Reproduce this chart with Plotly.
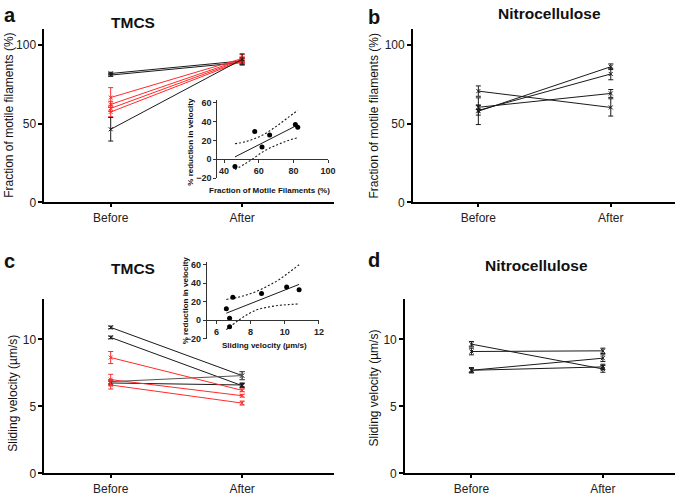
import plotly.graph_objects as go

W, H = 685, 502
FONT = "Arial, 'Liberation Sans', Helvetica, sans-serif"
BLACK = "#1a1a1a"
RED = "#ff2b2b"
GRAY = "#555555"

categories = ["Before", "After"]

# Panel a: fraction of motile filaments, TMCS
a_before = [82.0, 81.0, 66.7, 62.3, 59.8, 57.5, 46.5]
a_after = [90.0, 89.0, 91.5, 91.0, 90.5, 90.0, 91.0]
a_err_before = [0.8, 0.8, 6.3, 2.0, 2.0, 3.0, 7.5]
a_err_after = [1.5, 1.5, 2.5, 1.5, 1.5, 1.5, 3.5]
a_colors = [BLACK, BLACK, RED, RED, RED, RED, BLACK]

# Panel b: fraction of motile filaments, Nitrocellulose
b_before = [70.8, 60.5, 58.0, 58.5]
b_after = [60.4, 69.3, 86.3, 81.7]
b_err_before = [3.3, 1.5, 8.5, 3.0]
b_err_after = [5.5, 2.5, 1.8, 3.7]

# Panel c: sliding velocity, TMCS
c_before = [10.9, 10.15, 6.85, 6.75, 8.65, 7.0, 6.6]
c_after = [7.3, 6.55, 7.3, 6.6, 6.2, 5.8, 5.25]
c_err_before = [0.1, 0.1, 0.15, 0.15, 0.45, 0.4, 0.3]
c_err_after = [0.3, 0.15, 0.3, 0.15, 0.1, 0.1, 0.15]
c_colors = [BLACK, BLACK, GRAY, BLACK, RED, RED, RED]

# Panel d: sliding velocity, Nitrocellulose
d_before = [9.65, 9.1, 7.7, 7.7]
d_after = [7.8, 9.15, 8.6, 7.95]
d_err_before = [0.2, 0.25, 0.2, 0.15]
d_err_after = [0.25, 0.2, 0.25, 0.2]

# Inset a: % reduction in velocity vs fraction of motile filaments
ia_x = [46.3, 57.7, 61.9, 66.3, 81.1, 82.5]
ia_y = [-7.8, 29.5, 13.1, 25.9, 37.0, 34.0]
ia_fit_x = [46.3, 82.5]
ia_fit_y = [2.5, 36.5]
ia_band_x = [46.3, 52, 57, 62, 67, 72, 77, 82.5]
ia_upper = [16.5, 18.5, 21.5, 25.5, 31.0, 37.5, 44.5, 52.0]
ia_lower = [-11.0, -5.0, 1.0, 7.5, 12.5, 16.5, 20.0, 23.0]

# Inset c: % reduction in velocity vs sliding velocity
ic_x = [6.58, 6.96, 6.77, 6.77, 8.64, 10.11, 10.84]
ic_y = [12.4, 24.9, 2.1, -7.1, 28.8, 35.9, 33.0]
ic_fit_x = [6.58, 10.84]
ic_fit_y = [7.5, 38.7]
ic_band_x = [6.58, 7.2, 7.8, 8.4, 9.0, 9.6, 10.2, 10.84]
ic_upper = [22.4, 24.5, 27.5, 31.5, 37.0, 43.0, 51.0, 60.0]
ic_lower = [-10.3, -1.5, 6.0, 11.5, 14.0, 15.8, 16.8, 17.5]


def px_x(x):
    return x / W


def px_y(y):
    return 1 - y / H


fig = go.Figure()


def add_pairs(before, after, eb, ea, colors, xa, ya):
    for i in range(len(before)):
        col = colors[i] if isinstance(colors, list) else colors
        fig.add_trace(go.Scatter(
            x=[0, 1], y=[before[i], after[i]], mode="lines+markers",
            line=dict(color=col, width=1),
            marker=dict(symbol="x-thin", size=4, line=dict(color=col, width=1), color=col),
            error_y=dict(type="data", array=[eb[i], ea[i]], symmetric=True,
                         color=col, thickness=1, width=2.5),
            xaxis=xa, yaxis=ya, showlegend=False, hoverinfo="skip"))


add_pairs(a_before, a_after, a_err_before, a_err_after, a_colors, "x", "y")
add_pairs(b_before, b_after, b_err_before, b_err_after, BLACK, "x2", "y2")
add_pairs(c_before, c_after, c_err_before, c_err_after, c_colors, "x3", "y3")
add_pairs(d_before, d_after, d_err_before, d_err_after, BLACK, "x4", "y4")


def add_inset(xs, ys, fx, fy, bx, bu, bl, xa, ya):
    for band in (bu, bl):
        fig.add_trace(go.Scatter(x=bx, y=band, mode="lines",
                                 line=dict(color=BLACK, width=1.1, dash="2px,2px", shape="spline"),
                                 xaxis=xa, yaxis=ya, showlegend=False, hoverinfo="skip"))
    fig.add_trace(go.Scatter(x=fx, y=fy, mode="lines", line=dict(color=BLACK, width=1),
                             xaxis=xa, yaxis=ya, showlegend=False, hoverinfo="skip"))
    fig.add_trace(go.Scatter(x=xs, y=ys, mode="markers",
                             marker=dict(color="black", size=5),
                             xaxis=xa, yaxis=ya, showlegend=False, hoverinfo="skip"))


add_inset(ia_x, ia_y, ia_fit_x, ia_fit_y, ia_band_x, ia_upper, ia_lower, "x5", "y5")
add_inset(ic_x, ic_y, ic_fit_x, ic_fit_y, ic_band_x, ic_upper, ic_lower, "x6", "y6")

main_tick_font = dict(family=FONT, size=12, color="#222")


def main_x(left, right, before_px, after_px, anchor):
    unit = after_px - before_px
    return dict(domain=[px_x(left), px_x(right)],
                range=[(left - before_px) / unit, (right - before_px) / unit],
                tickvals=[0, 1], ticktext=categories, anchor=anchor,
                showline=True, linecolor="black", linewidth=2,
                ticks="outside", ticklen=3, tickwidth=1.5, tickcolor="black",
                showgrid=False, zeroline=False, tickfont=main_tick_font)


def main_y(top, bottom, rng, tickvals, anchor):
    return dict(domain=[px_y(bottom), px_y(top)], range=rng, tickvals=tickvals,
                anchor=anchor, showline=True, linecolor="black", linewidth=2,
                ticks="outside", ticklen=4, tickwidth=1.5, tickcolor="black",
                showgrid=False, zeroline=False, tickfont=main_tick_font)


inset_tick_font = dict(family=FONT, size=9, color="#222", weight="bold")


def inset_axes(left, right, top, bottom, xr, yr, xt, yt):
    ydom = [px_y(bottom), px_y(top)]
    zero_pos = ydom[0] + (0 - yr[0]) / (yr[1] - yr[0]) * (ydom[1] - ydom[0])
    xa = dict(domain=[px_x(left), px_x(right)], range=xr, tickvals=xt,
              anchor="free", position=zero_pos, showline=True, linecolor="#333",
              linewidth=1.2, ticks="outside", ticklen=3, tickwidth=1, tickcolor="#333",
              showgrid=False, zeroline=False, tickfont=inset_tick_font)
    ya = dict(domain=ydom, range=yr, tickvals=yt, showline=True, linecolor="#333",
              linewidth=1.2, ticks="outside", ticklen=3, tickwidth=1, tickcolor="#333",
              showgrid=False, zeroline=False, tickfont=inset_tick_font)
    return xa, ya


xa5, ya5 = inset_axes(220, 332, 100, 179.3, [36.2, 100], [-20, 62.8],
                      [40, 60, 80, 100], [-20, 0, 20, 40, 60])
ya5["anchor"] = "x5"
xa6, ya6 = inset_axes(209.3, 322.7, 265, 342.7, [5.44, 12], [-20, 62.7],
                      [6, 8, 10, 12], [-20, 0, 20, 40, 60])
ya6["anchor"] = "x6"

fig.update_layout(
    width=W, height=H, margin=dict(l=0, r=0, t=0, b=0),
    paper_bgcolor="white", plot_bgcolor="rgba(0,0,0,0)",
    font=dict(family=FONT, color="#222"),
    showlegend=False,
    xaxis=main_x(45, 338, 112, 245, "y"),
    yaxis=main_y(28, 204, [0, 110], [0, 50, 100], "x"),
    xaxis2=main_x(418, 683, 484, 618, "y2"),
    yaxis2=main_y(28, 204, [0, 110], [0, 50, 100], "x2"),
    xaxis3=main_x(45, 338, 112, 245, "y3"),
    yaxis3=main_y(302.7, 480, [0, 13], [0, 5, 10], "x3"),
    xaxis4=main_x(410, 683, 477, 610, "y4"),
    yaxis4=main_y(302.7, 480, [0, 13], [0, 5, 10], "x4"),
    xaxis5=xa5, yaxis5=ya5, xaxis6=xa6, yaxis6=ya6,
)


def ann(text, x, y, size, bold=False, angle=0):
    fig.add_annotation(text=f"<b>{text}</b>" if bold else text,
                       x=px_x(x), y=px_y(y), xref="paper", yref="paper",
                       showarrow=False, textangle=angle, xanchor="center", yanchor="middle",
                       font=dict(family=FONT, size=size, color="#111"))


# panel letters
ann("a", 10, 13, 20, bold=True)
ann("b", 378, 15, 20, bold=True)
ann("c", 10, 264, 20, bold=True)
ann("d", 378, 263, 20, bold=True)
# titles
ann("TMCS", 135, 21, 15.5, bold=True)
ann("Nitrocellulose", 556, 12, 15.5, bold=True)
ann("TMCS", 135, 271, 15.5, bold=True)
ann("Nitrocellulose", 543, 268, 15.5, bold=True)
# main y titles
ann("Fraction of motile filaments (%)", 9, 115, 12, angle=-90)
ann("Fraction of motile filaments (%)", 378, 116, 12, angle=-90)
ann("Sliding velocity (µm/s)", 13, 398, 12, angle=-90)
ann("Sliding velocity (µm/s)", 378, 393, 12, angle=-90)
# inset titles
ann("Fraction of Motile Filaments (%)", 273, 191.5, 8, bold=True)
ann("% reduction in velocity", 193, 142.5, 8, bold=True, angle=-90)
ann("Sliding velocity (µm/s)", 268, 350, 8, bold=True)
ann("% reduction in velocity", 188, 304, 8, bold=True, angle=-90)

fig.write_html("out.html", config={"displayModeBar": False},
               post_script="document.body.style.margin='0px';document.body.style.overflow='hidden';")
